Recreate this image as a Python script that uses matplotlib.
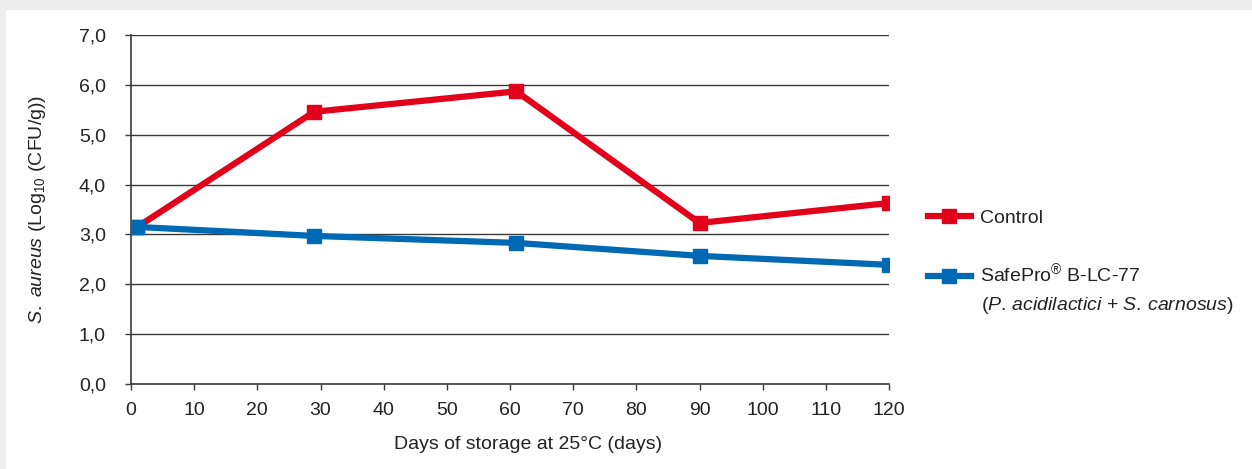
import numpy as np
import matplotlib.pyplot as plt
from matplotlib.patches import Rectangle

# storage days and S. aureus counts
days = [1, 29, 61, 90, 120]
control = [3.15, 5.46, 5.87, 3.23, 3.63]
safepro = [3.15, 2.97, 2.83, 2.57, 2.39]

x_ticks = list(range(0, 121, 10))
y_ticks = [0, 1, 2, 3, 4, 5, 6, 7]
y_tick_labels = ['0,0', '1,0', '2,0', '3,0', '4,0', '5,0', '6,0', '7,0']

RED = '#e2001a'
BLUE = '#0069b4'
GRID = '#3a3a3a'

plt.rcParams['font.family'] = ['Liberation Sans', 'DejaVu Sans']
plt.rcParams['mathtext.fontset'] = 'custom'
plt.rcParams['mathtext.rm'] = 'Liberation Sans'
plt.rcParams['mathtext.it'] = 'Liberation Sans:italic'

fig = plt.figure(figsize=(12.52, 4.69), dpi=100, facecolor='#ededed')
# white card on the grey page
fig.patches.append(Rectangle((6 / 1252, 0), 1, 1 - 10 / 469,
                             transform=fig.transFigure, facecolor='white',
                             edgecolor='none', zorder=-5))

ax = fig.add_axes([131 / 1252, 1 - 384 / 469, (889 - 131) / 1252, (384 - 35) / 469])
ax.set_facecolor('none')
ax.set_zorder(2)

ax.plot(days, control, color=RED, lw=4.5, marker='s', ms=10,
        label='Control', zorder=3)
ax.plot(days, safepro, color=BLUE, lw=4.5, marker='s', ms=10,
        label='SafePro$^{®}$ B-LC-77', zorder=4)

ax.set_xlim(0, 120)
ax.set_ylim(0, 7)
ax.set_xticks(x_ticks)
ax.set_yticks(y_ticks)
ax.set_yticklabels(y_tick_labels)
ax.yaxis.grid(True, color=GRID, lw=1)
ax.set_axisbelow(True)

for side in ['top', 'right']:
    ax.spines[side].set_visible(False)
for side in ['left', 'bottom']:
    ax.spines[side].set_color(GRID)
    ax.spines[side].set_linewidth(1.2)

ax.tick_params(axis='y', length=4, width=1, color=GRID, pad=14,
               labelsize=14, labelcolor='#222222')
ax.tick_params(axis='x', length=4, width=1, color=GRID, pad=9,
               labelsize=14, labelcolor='#222222')

ax.set_xlabel('Days of storage at 25°C (days)', fontsize=14, color='#222222')
ax.xaxis.set_label_coords((528 - 131) / 758, -0.15)
ax.set_ylabel(r'$\it{S.\ aureus}$ (Log$_{10}$ (CFU/g))', fontsize=14,
              color='#222222', labelpad=22)

leg = ax.legend(loc='upper left', bbox_to_anchor=(928 / 1252, 1 - 209 / 469),
                bbox_transform=fig.transFigure, frameon=False, fontsize=14,
                handlelength=2.2, handletextpad=0.45, labelspacing=1.85,
                borderpad=0, borderaxespad=0)
for t in leg.get_texts():
    t.set_color('#222222')

fig.text(981 / 1252, 1 - 305 / 469,
         r'($\it{P.\,acidilactici}$ + $\it{S.\,carnosus}$)',
         fontsize=14, color='#222222', va='center', ha='left')

fig.savefig('out.png', dpi=100, facecolor=fig.get_facecolor())
